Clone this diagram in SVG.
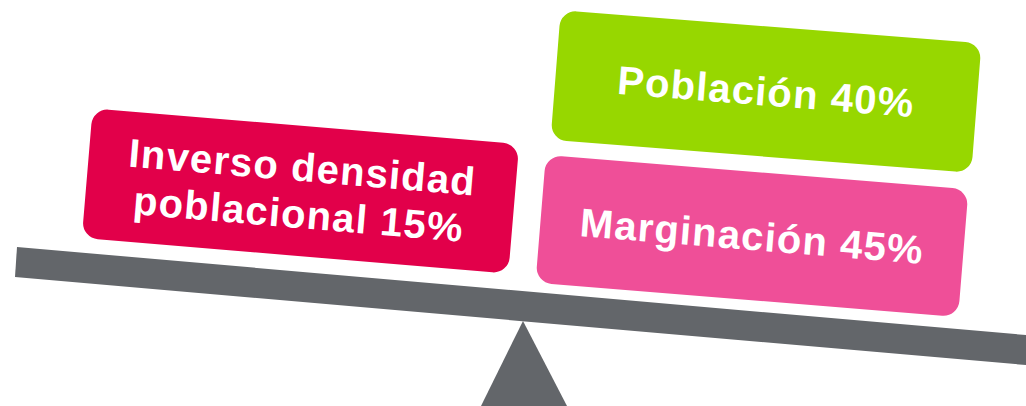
<svg xmlns="http://www.w3.org/2000/svg" width="1026" height="406" viewBox="0 0 1026 406">
<style>
.lbl{font-family:"Liberation Sans",Arial,sans-serif;font-weight:bold;font-size:40px;fill:#ffffff;text-anchor:middle;letter-spacing:1.2px}
.scale{fill:#63666a}
</style>
<rect width="1026" height="406" fill="#ffffff"/>
<g id="scale">
<polygon class="scale" points="17,247 1026,335 1026,365 15,277"/>
<polygon class="scale" points="523,321 567,406 481,406"/>
</g>
<g id="node-inverso" transform="translate(300.5,191) rotate(4.8)">
<rect x="-214" y="-65" width="428" height="130" rx="16" fill="#e2004a"/>
<text class="lbl" x="0" y="-10">Inverso densidad</text>
<text class="lbl" x="0" y="37">poblacional 15%</text>
</g>
<g id="node-poblacion" transform="translate(766,91.5) rotate(4.5)">
<rect x="-211" y="-65" width="422" height="130" rx="16" fill="#97d700"/>
<text class="lbl" x="0" y="14">Población 40%</text>
</g>
<g id="node-marginacion" transform="translate(752,236) rotate(4.65)">
<rect x="-212" y="-64" width="424" height="128" rx="16" fill="#ef4f98"/>
<text class="lbl" x="0" y="14">Marginación 45%</text>
</g>
<g id="connectors"></g>
</svg>
